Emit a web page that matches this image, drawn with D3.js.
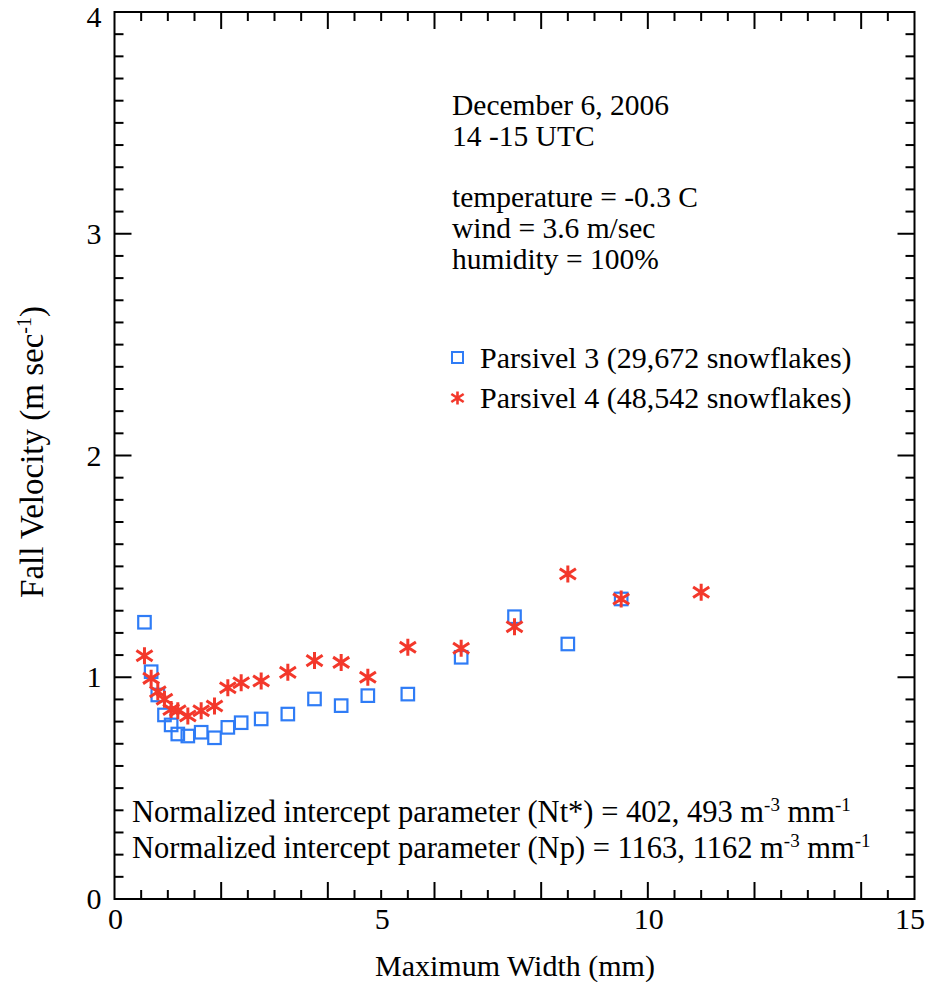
<!DOCTYPE html>
<html><head><meta charset="utf-8">
<script src="https://cdn.jsdelivr.net/npm/d3@7"></script>
<style>body{margin:0;background:#fff}svg{display:block}text{font-family:"Liberation Serif","Times New Roman",serif}</style>
</head><body>
<svg id="c" width="926" height="982"></svg>
<script>
const widthBins = [0.562,0.687,0.812,0.937,1.062,1.187,1.375,1.625,1.875,2.125,2.375,2.75,3.25,3.75,4.25,4.75,5.5,6.5,7.5,8.5,9.5,11];
const parsivel3 = [1.248,1.025,0.920,0.830,0.785,0.744,0.735,0.752,0.727,0.774,0.795,0.812,0.834,0.902,0.872,0.917,0.924,1.090,1.273,1.150,1.353,null];
const parsivel4 = [1.097,0.995,0.935,0.901,0.855,0.849,0.825,0.849,0.870,0.953,0.975,0.983,1.022,1.075,1.067,1.000,1.135,1.131,1.228,1.466,1.353,1.383];
const xTickLabels = [0,5,10,15];
const yTickLabels = [0,1,2,3,4];
const infoLines = ["December 6, 2006","14 -15 UTC","","temperature = -0.3 C","wind = 3.6 m/sec","humidity = 100%"];
const legendLabels = ["Parsivel 3 (29,672 snowflakes)","Parsivel 4 (48,542 snowflakes)"];

const svg = d3.select("#c");
const L=114.5, R=914.5, T=12, B=899;
const x = d3.scaleLinear().domain([0,15]).range([L,R]);
const y = d3.scaleLinear().domain([0,4]).range([B,T]);
const blue = "#2f7cf6", red = "#f3382b";

// frame
svg.append("rect").attr("x",L).attr("y",T).attr("width",R-L).attr("height",B-T)
  .attr("fill","none").attr("stroke","#000").attr("stroke-width",2);

// ticks
const g = svg.append("g").attr("stroke","#000").attr("stroke-width",2);
d3.range(1,30).forEach(i=>{
  const v=i*0.5, len = (i%4===0)?17:9, px=x(v);
  g.append("line").attr("x1",px).attr("x2",px).attr("y1",B).attr("y2",B-len);
  g.append("line").attr("x1",px).attr("x2",px).attr("y1",T).attr("y2",T+len);
});
d3.range(1,40).forEach(i=>{
  const v=i*0.1, len=(i%10===0)?17:9, py=y(v);
  g.append("line").attr("x1",L).attr("x2",L+len).attr("y1",py).attr("y2",py);
  g.append("line").attr("x1",R).attr("x2",R-len).attr("y1",py).attr("y2",py);
});

// tick labels
svg.selectAll(".xl").data(xTickLabels).enter().append("text")
  .attr("x",d=>Math.min(x(d)+1,910)).attr("y",B+30).attr("text-anchor","middle")
  .attr("font-size",30).text(d=>d);
svg.selectAll(".yl").data(yTickLabels).enter().append("text")
  .attr("x",L-13).attr("y",d=>Math.max(y(d)+10,27)).attr("text-anchor","end")
  .attr("font-size",30).text(d=>d);

// axis titles
svg.append("text").attr("x",515).attr("y",976).attr("text-anchor","middle")
  .attr("font-size",30).text("Maximum Width (mm)");
const yt = svg.append("text").attr("transform","translate(43,452) rotate(-90)")
  .attr("text-anchor","middle").attr("font-size",33);
yt.append("tspan").text("Fall Velocity (m sec");
yt.append("tspan").attr("dy",-12).attr("font-size",20).text("-1");
yt.append("tspan").attr("dy",12).text(")");

// data points
const pts3 = widthBins.map((w,i)=>({w,v:parsivel3[i]})).filter(d=>d.v!=null);
const pts4 = widthBins.map((w,i)=>({w,v:parsivel4[i]})).filter(d=>d.v!=null);
const sq=12.5;
svg.selectAll(".p3").data(pts3).enter().append("rect")
  .attr("x",d=>x(d.w)-sq/2).attr("y",d=>y(d.v)-sq/2).attr("width",sq).attr("height",sq)
  .attr("fill","none").attr("stroke",blue).attr("stroke-width",2.2);
function star(sel,cx,cy,r,sw){
  const a=r*0.95, b=r*0.62;
  sel.append("path").attr("d",`M${cx},${cy-r}L${cx},${cy+r}M${cx-a},${cy-b}L${cx+a},${cy+b}M${cx-a},${cy+b}L${cx+a},${cy-b}`)
    .attr("stroke",red).attr("stroke-width",sw).attr("fill","none");
}
const sg = svg.append("g");
pts4.forEach(d=>star(sg,x(d.w),y(d.v),8.5,3));

// info text
const info = svg.append("text").attr("font-size",29.5);
infoLines.forEach((t,i)=>{
  info.append("tspan").attr("x",452).attr("y",115+i*30.8).text(t);
});

// legend
svg.append("rect").attr("x",452).attr("y",352).attr("width",11).attr("height",11)
  .attr("fill","none").attr("stroke",blue).attr("stroke-width",2);
star(svg,457.5,398,6.5,2.6);
legendLabels.forEach((t,i)=>{
  svg.append("text").attr("x",480).attr("y",368+i*40)
    .attr("font-size",30).text(t);
});

// bottom notes
const notes = [["Normalized intercept parameter (Nt*) = 402, 493 m","-3"," mm","-1"],
               ["Normalized intercept parameter (Np) = 1163, 1162 m","-3"," mm","-1"]];
notes.forEach((n,i)=>{
  const t = svg.append("text").attr("x",132).attr("y",822+i*36).attr("font-size",30.5);
  t.append("tspan").text(n[0]);
  t.append("tspan").attr("dy",-11).attr("font-size",19).text(n[1]);
  t.append("tspan").attr("dy",11).text(n[2]);
  t.append("tspan").attr("dy",-11).attr("font-size",19).text(n[3]);
});
</script>
</body></html>
